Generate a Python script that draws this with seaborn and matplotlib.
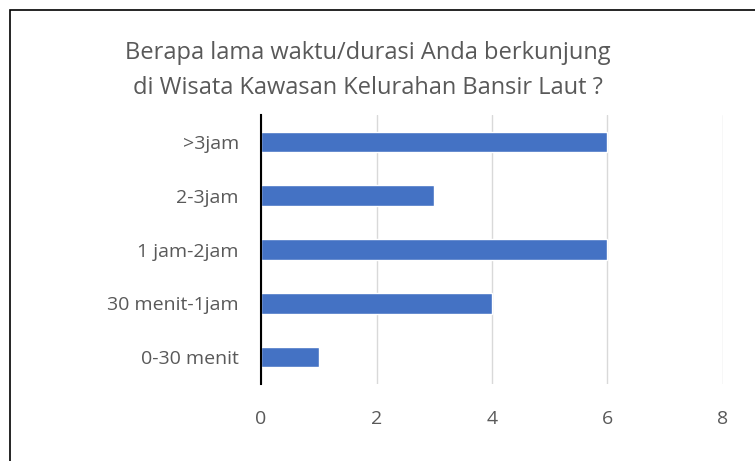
import seaborn as sns
import pandas as pd
import matplotlib.pyplot as plt
from matplotlib.patches import Rectangle

# data
categories = ['>3jam', '2-3jam', '1 jam-2jam', '30 menit-1jam', '0-30 menit']
counts = [6, 3, 6, 4, 1]
x_ticks = [0, 2, 4, 6, 8]

df = pd.DataFrame({'durasi': categories, 'jumlah': counts})

sns.set_theme(style='white')
plt.rcParams['font.family'] = ['Open Sans', 'DejaVu Sans']

fig = plt.figure(figsize=(7.55, 4.61), dpi=100)
ax = fig.add_axes([261 / 755, 1 - 384 / 461, 462 / 755, 269 / 461])

sns.barplot(data=df, x='jumlah', y='durasi', color='#4472C4', width=0.38,
            saturation=1, ax=ax, zorder=3)

ax.set_xlim(0, 8)
ax.set_xticks(x_ticks)
ax.grid(axis='x', color='#D9D9D9', linewidth=1, zorder=0)
ax.set_xlabel('')
ax.set_ylabel('')
for s in ['top', 'right', 'bottom']:
    ax.spines[s].set_visible(False)
ax.spines['left'].set_color('black')
ax.spines['left'].set_linewidth(1.5)
ax.spines['left'].set_zorder(4)
ax.tick_params(axis='both', length=0, labelsize=14, colors='#595959')
ax.tick_params(axis='y', pad=16)
ax.tick_params(axis='x', pad=19)

fig.text(368 / 755, 1 - 70.5 / 461,
         'Berapa lama waktu/durasi Anda berkunjung\ndi Wisata Kawasan Kelurahan Bansir Laut ?',
         ha='center', va='center', fontsize=17, color='#595959', linespacing=1.65)

# outer border
fig.patches.append(Rectangle((10 / 755, -0.1), 1.2, (451 / 461) + 0.1,
                             transform=fig.transFigure, fill=False,
                             edgecolor='black', linewidth=1.2))

fig.savefig('out.png', dpi=100)
